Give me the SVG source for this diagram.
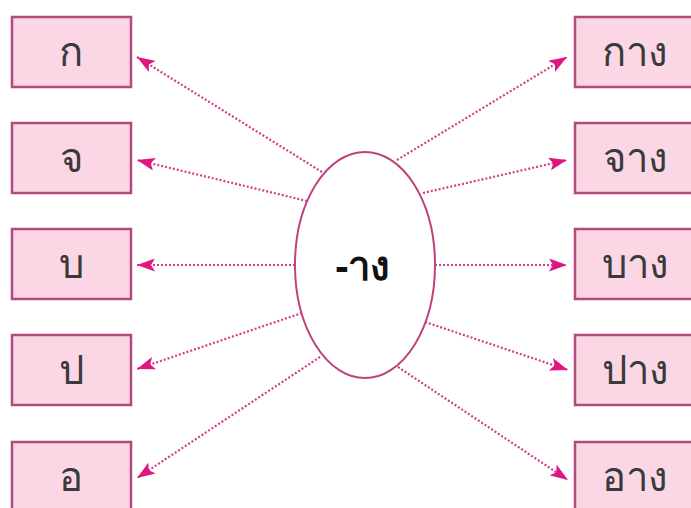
<svg xmlns="http://www.w3.org/2000/svg" width="691" height="508" viewBox="0 0 691 508">
<defs>
<style>
.box{fill:#fbd7e6;stroke:#b24a7c;stroke-width:2.5}
.t{font-family:"Noto Sans","DejaVu Sans",sans-serif;font-size:40px;fill:#3a3a3a;text-anchor:middle}
.c{stroke:#d63a8b;stroke-width:2.2;stroke-dasharray:2 2;fill:none}
</style>
<marker id="a" viewBox="0 0 18 13" refX="18" refY="6.5" markerWidth="18" markerHeight="13" markerUnits="userSpaceOnUse" orient="auto">
<path d="M0,0 L18,6.5 L0,13 L4,6.5 z" fill="#e0157f"/>
</marker>
</defs>
<rect width="691" height="508" fill="#fff"/>
<g id="connectors">
<line class="c" x1="322" y1="172" x2="137" y2="57" marker-end="url(#a)"/>
<line class="c" x1="307" y1="201" x2="137" y2="160" marker-end="url(#a)"/>
<line class="c" x1="295" y1="265" x2="137" y2="265" marker-end="url(#a)"/>
<line class="c" x1="302" y1="313" x2="137" y2="369" marker-end="url(#a)"/>
<line class="c" x1="320" y1="357" x2="137" y2="478" marker-end="url(#a)"/>
<line class="c" x1="397" y1="160" x2="567" y2="57" marker-end="url(#a)"/>
<line class="c" x1="423" y1="193" x2="567" y2="160" marker-end="url(#a)"/>
<line class="c" x1="435" y1="265" x2="567" y2="265" marker-end="url(#a)"/>
<line class="c" x1="425" y1="322" x2="568" y2="370" marker-end="url(#a)"/>
<line class="c" x1="398" y1="367" x2="568" y2="480" marker-end="url(#a)"/>
</g>
<g id="center">
<ellipse cx="365" cy="265" rx="70" ry="113" fill="#fff" stroke="#c0427f" stroke-width="2"/>
<text x="363" y="280" class="t" style="font-weight:bold;fill:#111">-าง</text>
</g>
<g id="l1"><rect class="box" x="12" y="17" width="119" height="70"/><text class="t" x="71" y="66">ก</text></g>
<g id="l2"><rect class="box" x="12" y="123" width="119" height="70"/><text class="t" x="71" y="172">จ</text></g>
<g id="l3"><rect class="box" x="12" y="229" width="119" height="70"/><text class="t" x="71" y="278">บ</text></g>
<g id="l4"><rect class="box" x="12" y="335" width="119" height="70"/><text class="t" x="71" y="384">ป</text></g>
<g id="l5"><rect class="box" x="12" y="442" width="119" height="70"/><text class="t" x="71" y="491">อ</text></g>
<g id="r1"><rect class="box" x="575" y="17" width="125" height="70"/><text class="t" x="635" y="66">กาง</text></g>
<g id="r2"><rect class="box" x="575" y="123" width="125" height="70"/><text class="t" x="635" y="172">จาง</text></g>
<g id="r3"><rect class="box" x="575" y="229" width="125" height="70"/><text class="t" x="635" y="278">บาง</text></g>
<g id="r4"><rect class="box" x="575" y="335" width="125" height="70"/><text class="t" x="635" y="384">ปาง</text></g>
<g id="r5"><rect class="box" x="575" y="442" width="125" height="70"/><text class="t" x="635" y="491">อาง</text></g>
</svg>
